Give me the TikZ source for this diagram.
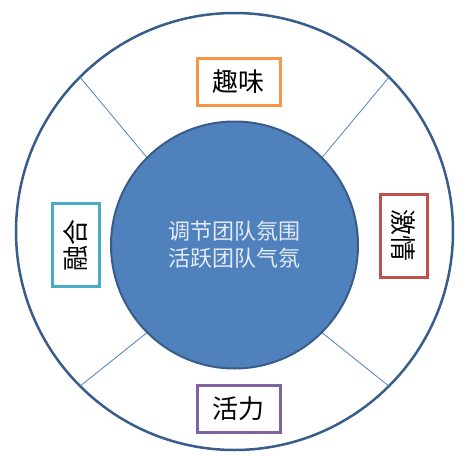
\documentclass[tikz,border=0pt]{standalone}
\usepackage{fontspec}
\newfontfamily\cjk{Noto Sans CJK SC}
\definecolor{ringblue}{HTML}{385D8A}
\definecolor{hubblue}{HTML}{4F81BD}
\definecolor{hubtext}{HTML}{E4EBF5}
\definecolor{funcolor}{HTML}{F79646}
\definecolor{passioncolor}{HTML}{C0504D}
\definecolor{vigorcolor}{HTML}{8064A2}
\definecolor{unioncolor}{HTML}{4BACC6}
\tikzset{
    tag/.style={draw, line width=3pt, fill=white, inner sep=0pt,
        minimum width=83pt, minimum height=47pt,
        font=\cjk\fontsize{26}{30}\selectfont},
}
\begin{document}
\begin{tikzpicture}[x=1pt, y=-1pt]

            % the frame
            \useasboundingbox (0, 0) rectangle (467, 456);

            % the rings
            \node[circle, draw=ringblue, line width=2.5pt, inner sep=0pt,
                minimum size=437pt] (ring) at (234.5, 231.5) {};
            \node[circle, draw=ringblue, line width=2pt, fill=hubblue, inner sep=0pt,
                minimum size=247pt, text=hubtext, align=center,
                font=\cjk\fontsize{22}{27}\selectfont] (hub) at (234.5, 245)
                {调节团队氛围\\活跃团队气氛};

            % the spokes
            \foreach \a in {45, 135, 225, 315} {
                \draw[hubblue, line width=0.8pt] (ring.\a) -- (hub.\a);
            };

            % labels
            \node[tag, draw=funcolor] (fun) at (238.5, 82) {趣味};
            \node[tag, draw=vigorcolor] (vigor) at (238.5, 408.5) {活力};
            \node[tag, draw=unioncolor, rotate=90] (union) at (75.5, 245) {融合};
            \node[tag, draw=passioncolor, rotate=-90] (passion) at (403.5, 235.5) {激情};

        \end{tikzpicture}
\end{document}
